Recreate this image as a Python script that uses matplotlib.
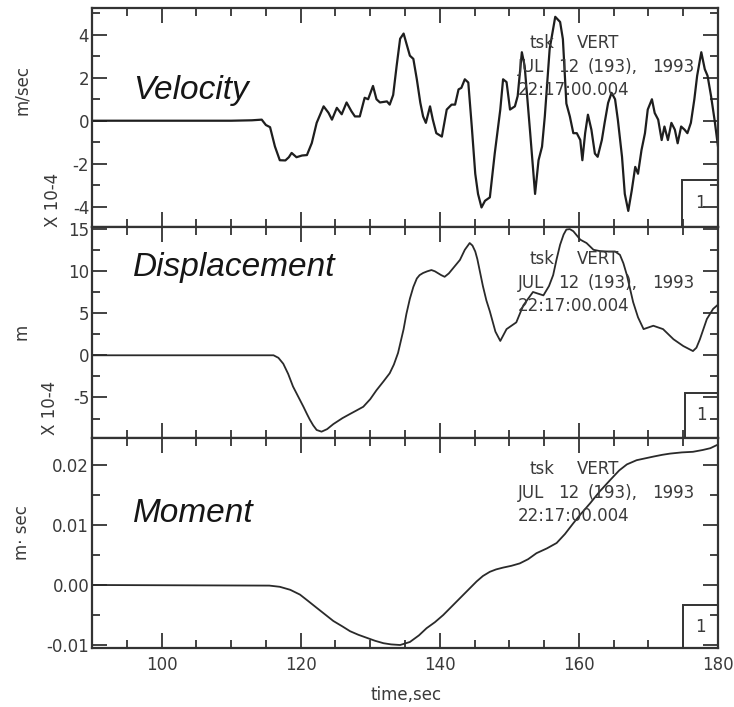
import matplotlib
matplotlib.use("Agg")
import matplotlib.pyplot as plt
from matplotlib.ticker import MultipleLocator, FormatStrFormatter
from matplotlib.patches import Rectangle

plt.rcParams["axes.unicode_minus"] = False

# ---- data -------------------------------------------------------------
vel_t = [90, 100, 110, 113, 114.4, 115.0, 115.6, 116.3, 117.0, 117.8, 118.3, 118.7,
         119.4, 120.2, 120.9, 121.6, 122.3, 123.3, 124.0, 124.5, 125.2, 125.9, 126.6,
         127.3, 127.8, 128.5, 129.2, 129.7, 130.4, 130.9, 131.4, 132.4, 132.8, 133.3,
         133.8, 134.3, 134.8, 135.2, 135.7, 136.2, 136.7, 137.2, 137.6, 138.0, 138.6,
         139.0, 139.5, 140.3, 141.0, 141.7, 142.2, 142.7, 143.1, 143.6, 144.1, 144.6,
         145.1, 145.5, 146.0, 146.5, 147.2, 147.9, 148.7, 149.1, 149.6, 150.1, 150.8,
         151.2, 151.8, 152.2, 153.0, 153.7, 154.2, 154.7, 155.1, 155.8, 156.6, 157.3,
         157.7, 158.2, 158.7, 159.2, 159.7, 160.2, 160.5, 160.9, 161.3, 161.8, 162.3,
         162.7, 163.3, 163.7, 164.2, 164.7, 165.2, 165.6, 166.2, 166.6, 167.1, 167.6,
         168.1, 168.5, 169.0, 169.5, 169.9, 170.5, 170.9, 171.4, 171.9, 172.3, 172.8,
         173.3, 173.8, 174.2, 174.7, 175.2, 175.6, 176.1, 176.6, 177.0, 177.6, 178.1,
         178.5, 179.0, 179.5, 180.0]
vel_v = [0, 0, 0, 0.02, 0.05, -0.2, -0.3, -1.2, -1.84, -1.85, -1.7, -1.5,
         -1.7, -1.62, -1.6, -1.04, -0.1, 0.67, 0.37, 0.05, 0.6, 0.3, 0.85,
         0.44, 0.2, 0.2, 1.07, 1.0, 1.62, 1.0, 0.85, 0.9, 0.75, 1.2,
         2.56, 3.82, 4.06, 3.6, 3.03, 2.88, 1.93, 0.84, 0.2, -0.1, 0.67,
         0.05, -0.58, -0.74, 0.52, 0.75, 0.75, 1.46, 1.53, 1.93, 1.78, -0.27,
         -2.47, -3.41, -4.04, -3.73, -3.57, -1.53, 0.52, 1.93, 1.8, 0.52, 0.67,
         1.15, 3.19, 2.56, -0.58, -3.41, -1.84, -1.21, 0.2, 3.35, 4.84, 4.6,
         3.8, 0.8, 0.2, -0.58, -0.58, -0.9, -1.84, -0.58, 0.28, -0.42, -1.53,
         -1.68, -0.9, -0.1, 0.83, 1.3, 1.0, 0.05, -1.68, -3.41, -4.2, -3.25,
         -2.15, -2.47, -1.37, -0.58, 0.52, 1.0, 0.36, 0.05, -0.9, -0.27, -0.9,
         -0.1, -0.42, -1.05, -0.27, -0.42, -0.58, -0.1, 1.0, 2.09, 3.19, 2.4,
         2.09, 1.15, 0.05, -1.2]

disp_t = [90, 116.1, 116.8, 117.5, 118.2, 118.9, 119.4, 119.9, 120.4, 120.9, 121.3,
          121.8, 122.3, 123.0, 123.8, 124.7, 126.0, 127.1, 128.0, 129.0, 130.0,
          130.9, 131.9, 132.8, 133.4, 134.0, 134.8, 135.2, 135.7, 136.2, 136.7,
          137.1, 137.6, 138.2, 138.8, 139.3, 139.8, 140.2, 140.7, 141.3, 141.9,
          142.4, 142.9, 143.6, 144.3, 144.7, 145.1, 145.4, 145.8, 146.2, 146.7,
          147.2, 148.0, 148.7, 149.6, 151.0, 152.0, 153.4, 154.9, 155.7, 156.3,
          156.8, 157.3, 157.8, 158.2, 158.7, 159.2, 160.2, 161.1, 162.1, 163.0,
          164.0, 165.2, 165.9, 166.4, 166.9, 167.8, 168.5, 169.3, 170.0, 170.7,
          172.1, 173.6, 175.0, 176.4, 176.9, 177.4, 177.9, 178.4, 179.3, 180.0]
disp_d = [0, 0, -0.3, -1.0, -2.2, -3.7, -4.5, -5.3, -6.1, -6.95, -7.6,
          -8.3, -8.85, -9.05, -8.75, -8.15, -7.45, -6.95, -6.55, -6.1, -5.2,
          -4.14, -3.1, -2.13, -1.1, 0.28, 3.1, 4.9, 6.7, 8.1, 9.1,
          9.5, 9.75, 9.95, 10.1, 9.95, 9.7, 9.5, 9.3, 9.7, 10.3,
          10.8, 11.3, 12.5, 13.3, 13.0, 12.3, 11.4, 9.8, 8.2, 6.5,
          5.2, 2.8, 1.7, 3.1, 3.9, 5.9, 7.5, 7.1, 8.2, 9.5,
          11.4, 13.1, 14.3, 14.9, 14.95, 14.7, 13.7, 13.3, 12.5, 12.35,
          12.3, 12.3, 11.9, 10.9, 9.5, 6.3, 4.5, 3.1, 3.3, 3.5,
          3.1, 1.9, 1.1, 0.5, 0.9, 1.9, 3.1, 4.3, 5.5, 6.0]

mom_t = [90, 115.5, 117.0, 118.5, 119.9, 121.0, 122.3, 123.5, 124.7, 126.0, 127.1,
         128.3, 129.5, 130.7, 131.9, 133.0, 134.3, 135.7, 137.0, 138.1, 139.3,
         140.5, 141.7, 142.9, 144.1, 145.3, 146.2, 147.2, 148.1, 149.1, 150.3,
         151.5, 152.7, 153.9, 155.4, 156.8, 158.0, 159.2, 160.4, 161.6, 163.0,
         164.5, 165.8, 166.9, 167.7, 168.3, 169.5, 170.7, 172.0, 173.1, 174.8,
         176.4, 177.8, 178.9, 179.8, 180.0]
mom_m = [0, -0.0001, -0.0003, -0.0008, -0.0016, -0.0026, -0.0038, -0.0049, -0.006,
         -0.0069, -0.0077, -0.0083, -0.0088, -0.0093, -0.0097, -0.0099, -0.0100,
         -0.0095, -0.0084, -0.0072, -0.0062, -0.0050, -0.0036, -0.0022, -0.0008,
         0.0006, 0.0015, 0.0022, 0.0026, 0.0029, 0.0032, 0.0036, 0.0043, 0.0053,
         0.0061, 0.0070, 0.0085, 0.0103, 0.0120, 0.0136, 0.0156, 0.0175, 0.0191,
         0.0201, 0.0205, 0.0208, 0.0211, 0.0214, 0.0217, 0.0219, 0.0221, 0.0222,
         0.0225, 0.0228, 0.0233, 0.0234]

panel_titles = ["Velocity", "Displacement", "Moment"]
unit_labels = ["m/sec", "m", "m\u00b7 sec"]
header_lines = [["tsk", "VERT"], ["JUL", "12", "(193),", "1993"], ["22:17:00.004"]]
x_ticks = [100, 120, 140, 160, 180]

# ---- layout helpers ---------------------------------------------------
W, H = 734, 707
fig = plt.figure(figsize=(W / 100, H / 100), dpi=100)
fig.patch.set_facecolor("white")


def rect(left, top, right, bottom):
    return [left / W, 1 - bottom / H, (right - left) / W, (bottom - top) / H]


def ftext(x, y, s, **kw):
    return fig.text(x / W, 1 - y / H, s, **kw)


INK = "#2a2a2a"
LABEL = "#3a3a3a"
small = dict(family="DejaVu Sans", fontsize=12, color=LABEL)

ax1 = fig.add_axes(rect(92, 8, 718, 227))
ax2 = fig.add_axes(rect(92, 227, 718, 438))
ax3 = fig.add_axes(rect(92, 438, 718, 648))
axes = [ax1, ax2, ax3]

ax1.plot(vel_t, vel_v, color="#1e1e1e", lw=1.6, solid_joinstyle="round")
ax2.plot(disp_t, disp_d, color=INK, lw=1.3, solid_joinstyle="round")
ax3.plot(mom_t, mom_m, color=INK, lw=1.3, solid_joinstyle="round")

ax1.set_ylim(-4.95, 5.25)
ax2.set_ylim(-9.8, 15.2)
ax3.set_ylim(-0.0105, 0.0245)

ax1.yaxis.set_major_locator(MultipleLocator(2))
ax1.yaxis.set_minor_locator(MultipleLocator(1))
ax2.yaxis.set_major_locator(MultipleLocator(5))
ax2.yaxis.set_minor_locator(MultipleLocator(2.5))
ax3.yaxis.set_major_locator(MultipleLocator(0.01))
ax3.yaxis.set_minor_locator(MultipleLocator(0.005))
ax3.yaxis.set_major_formatter(FormatStrFormatter("%.2f"))
ax1.yaxis.set_major_formatter(FormatStrFormatter("%d"))
ax2.yaxis.set_major_formatter(FormatStrFormatter("%d"))

for ax in axes:
    ax.set_xlim(90, 180)
    ax.set_xticks(x_ticks)
    ax.xaxis.set_minor_locator(MultipleLocator(5))
    ax.tick_params(which="both", direction="in", top=True, right=True,
                   color="#333333", width=1.3)
    ax.tick_params(which="major", length=11, pad=2, labelsize=12,
                   labelcolor=LABEL)
    ax.tick_params(which="minor", length=5.5)
    for sp in ax.spines.values():
        sp.set_linewidth(1.6)
        sp.set_color("#333333")
    if ax is not ax3:
        ax.tick_params(labelbottom=False)
ax3.tick_params(axis="x", pad=6)

# small framed panel number at lower right
for ax, (bl, bt) in zip(axes, [(682, 180), (685, 393), (683, 605)]):
    x0 = (bl - 92) / (718 - 92)
    pos = ax.get_position()
    top_px = (1 - pos.y1) * H
    bot_px = (1 - pos.y0) * H
    y1 = (bot_px - bt) / (bot_px - top_px)
    ax.add_patch(Rectangle((x0, 0), 1 - x0, y1, transform=ax.transAxes,
                           fill=False, lw=1.4, ec="#333333", clip_on=False))
    ax.text(x0 + (1 - x0) * 0.5, y1 * 0.5, "1", transform=ax.transAxes,
            ha="center", va="center", **small)

# panel titles
for (x, y), s in zip([(133, 90), (133, 267), (133, 513)], panel_titles):
    ftext(x, y, s, family="Liberation Sans", style="italic", fontsize=24,
          color="#161616", ha="left", va="center")

# station / date header in each panel
tok_x = [[530, 577], [518, 558, 588, 652], [518]]
for y0 in [43, 259, 469]:
    for i, (line, xs) in enumerate(zip(header_lines, tok_x)):
        yy = y0 + [0, 24, 47][i]
        for s, xx in zip(line, xs):
            ftext(xx, yy, s, ha="left", va="center", **small)

# axis unit labels
for (x, y), s in zip([(22, 90), (22, 332), (22, 533)], unit_labels):
    ftext(x, y, s, rotation=90, ha="center", va="center", **small)
for x, y in [(53, 200), (50, 408)]:
    ftext(x, y, "X 10-4", rotation=90, ha="center", va="center", **small)

ftext(406, 695, "time,sec", ha="center", va="center", **small)

fig.savefig("out.png", dpi=100, facecolor="white")
